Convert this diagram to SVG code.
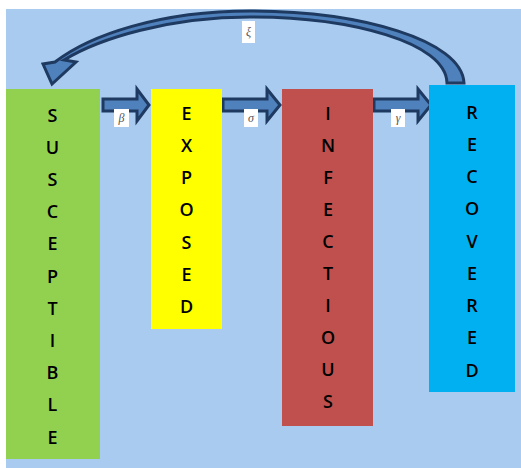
<svg xmlns="http://www.w3.org/2000/svg" width="521" height="468" viewBox="0 0 521 468">
<style>
.lt{font-family:"Open Sans","Liberation Sans",sans-serif;font-size:18px;font-weight:600;fill:#000;text-anchor:middle}
.gk{font-family:"Liberation Serif","DejaVu Serif",serif;font-size:12px;font-style:italic;fill:#555;text-anchor:middle}
.arr{fill:#4F81BD;stroke:#1F3A60;stroke-width:3;stroke-linejoin:miter}
.lb{fill:#fff}
</style>
<rect x="0" y="0" width="521" height="468" fill="#fff"/>
<rect x="6" y="9" width="515" height="459" fill="#A9CBEF"/>
<g id="connectors">
<path class="arr" d="M464 83 C462 40 360 11 250 11 C160 11 90 35 55 62 L43 64 L52 84 L76 62 L64 60 C100 38 170 17 250 17 C350 17 446 42 447 83 Z"/>
<path class="arr" d="M103 99 H137 V89 L149 105 L137 121 V111 H103 Z"/>
<path class="arr" d="M223 99 H267 V89 L280 105 L267 121 V111 H223 Z"/>
<path class="arr" d="M374 99 H418 V89 L431 105 L418 121 V111 H374 Z"/>
<rect class="lb" x="242" y="21" width="13" height="22"/>
<text class="gk" x="248.5" y="36">ξ</text>
<rect class="lb" x="114" y="109" width="15" height="18"/>
<text class="gk" x="121.5" y="122">β</text>
<rect class="lb" x="244" y="109" width="14" height="18"/>
<text class="gk" x="251" y="122">σ</text>
<rect class="lb" x="391" y="109" width="14" height="18"/>
<text class="gk" x="398" y="122">γ</text>
</g>
<g id="susceptible">
<rect x="6" y="89" width="94" height="370" fill="#92D050"/>
<text class="lt"><tspan x="52.5" y="121.5">S</tspan><tspan x="52.5" y="153.7">U</tspan><tspan x="52.5" y="185.9">S</tspan><tspan x="52.5" y="218.1">C</tspan><tspan x="52.5" y="250.3">E</tspan><tspan x="52.5" y="282.5">P</tspan><tspan x="52.5" y="314.7">T</tspan><tspan x="52.5" y="346.9">I</tspan><tspan x="52.5" y="379.1">B</tspan><tspan x="52.5" y="411.3">L</tspan><tspan x="52.5" y="443.5">E</tspan></text>
</g>
<g id="exposed">
<rect x="151" y="89" width="71" height="240" fill="#FFFF00"/>
<text class="lt"><tspan x="186.5" y="119.5">E</tspan><tspan x="186.5" y="151.8">X</tspan><tspan x="186.5" y="184.1">P</tspan><tspan x="186.5" y="216.4">O</tspan><tspan x="186.5" y="248.7">S</tspan><tspan x="186.5" y="281">E</tspan><tspan x="186.5" y="313.3">D</tspan></text>
</g>
<g id="infectious">
<rect x="282" y="89" width="91" height="337" fill="#C0504D"/>
<text class="lt"><tspan x="328" y="119.5">I</tspan><tspan x="328" y="151.6">N</tspan><tspan x="328" y="183.7">F</tspan><tspan x="328" y="215.8">E</tspan><tspan x="328" y="247.9">C</tspan><tspan x="328" y="280">T</tspan><tspan x="328" y="312.1">I</tspan><tspan x="328" y="344.2">O</tspan><tspan x="328" y="376.3">U</tspan><tspan x="328" y="408.4">S</tspan></text>
</g>
<g id="recovered">
<rect x="429" y="85" width="86" height="307" fill="#00B0F0"/>
<text class="lt"><tspan x="472" y="118.5">R</tspan><tspan x="472" y="150.75">E</tspan><tspan x="472" y="183">C</tspan><tspan x="472" y="215.25">O</tspan><tspan x="472" y="247.5">V</tspan><tspan x="472" y="279.75">E</tspan><tspan x="472" y="312">R</tspan><tspan x="472" y="344.25">E</tspan><tspan x="472" y="376.5">D</tspan></text>
</g>
</svg>
